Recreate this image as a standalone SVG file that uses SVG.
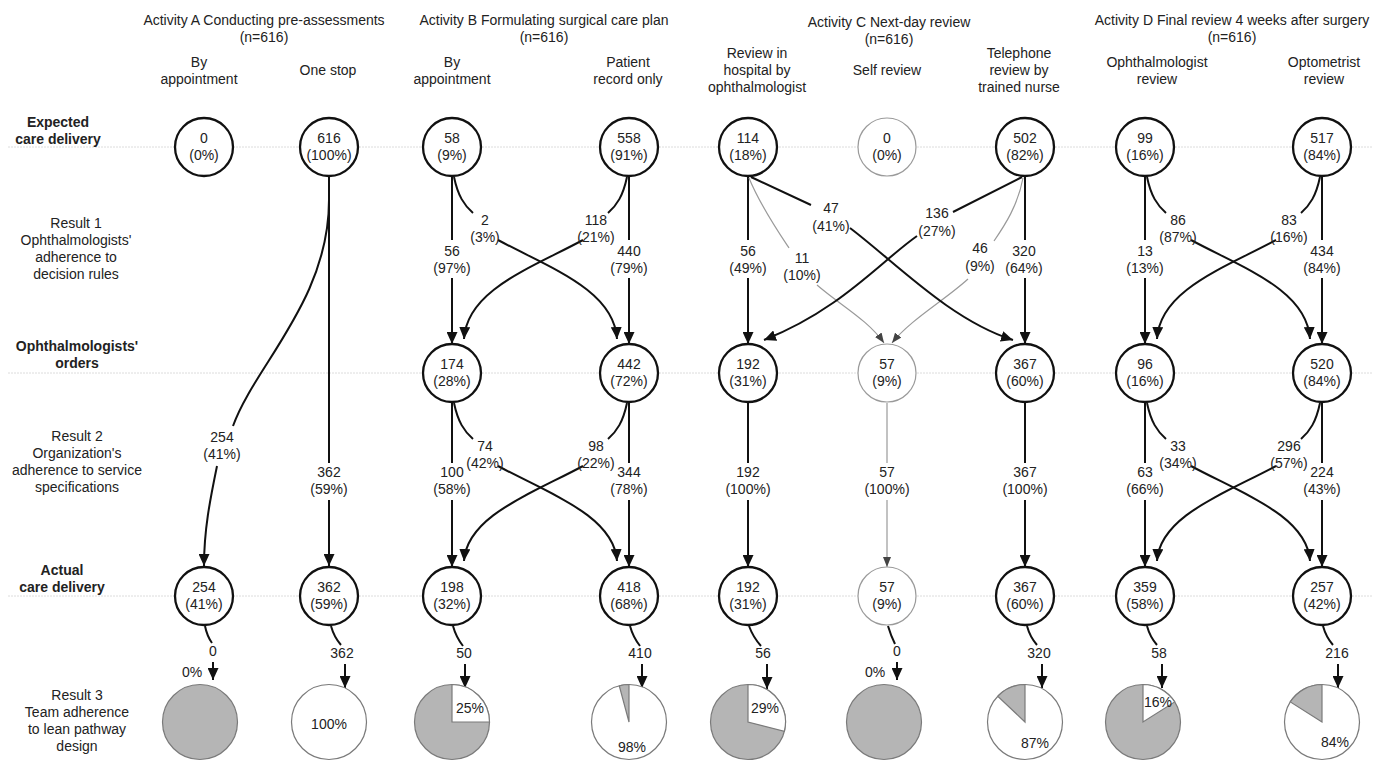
<svg xmlns="http://www.w3.org/2000/svg" width="1384" height="761" viewBox="0 0 1384 761">
<defs>
<style>
text{font-family:"Liberation Sans",Arial,sans-serif;font-size:14px;fill:#222;text-anchor:middle}
.b{font-weight:bold}
.grid{stroke:#dcdcdc;stroke-width:1;stroke-dasharray:2 1}
.nd circle{fill:#fff;stroke:#111;stroke-width:2.3}
.ng circle{fill:#fff;stroke:#9a9a9a;stroke-width:1.2}
.c{fill:none;stroke:#111;stroke-width:2}
.cg{fill:none;stroke:#9a9a9a;stroke-width:1.2}
.pg{fill:#b5b5b5;stroke:#7a7a7a;stroke-width:1.2}
.pw{fill:#fff;stroke:#7a7a7a;stroke-width:1.2}
</style>
<marker id="ah" viewBox="0 0 12 11" refX="12" refY="5.5" markerWidth="12" markerHeight="11" markerUnits="userSpaceOnUse" orient="auto"><path d="M0,0 L12,5.5 L0,11 Z" fill="#111"/></marker>
<marker id="ahg" viewBox="0 0 10 8" refX="10" refY="4" markerWidth="10" markerHeight="8" markerUnits="userSpaceOnUse" orient="auto"><path d="M0,0 L10,4 L0,8 Z" fill="#444"/></marker>
</defs>
<rect width="1384" height="761" fill="#fff"/>

<g id="gridlines">
<line class="grid" x1="8" y1="147" x2="1373" y2="147"/>
<line class="grid" x1="8" y1="373" x2="1373" y2="373"/>
<line class="grid" x1="8" y1="596" x2="1373" y2="596"/>
</g>

<g id="headers">
<text x="264" y="25">Activity A Conducting pre-assessments</text><text x="264" y="42">(n=616)</text>
<text x="544" y="25">Activity B Formulating surgical care plan</text><text x="544" y="42">(n=616)</text>
<text x="889" y="27">Activity C Next-day review</text><text x="889" y="44">(n=616)</text>
<text x="1232" y="25">Activity D Final review 4 weeks after surgery</text><text x="1232" y="42">(n=616)</text>
<text x="199" y="67">By</text><text x="199" y="84">appointment</text>
<text x="328" y="75">One stop</text>
<text x="452" y="67">By</text><text x="452" y="84">appointment</text>
<text x="628" y="67">Patient</text><text x="628" y="84">record only</text>
<text x="757" y="58">Review in</text><text x="757" y="75">hospital by</text><text x="757" y="92">ophthalmologist</text>
<text x="887" y="75">Self review</text>
<text x="1019" y="58">Telephone</text><text x="1019" y="75">review by</text><text x="1019" y="92">trained nurse</text>
<text x="1157" y="67">Ophthalmologist</text><text x="1157" y="84">review</text>
<text x="1324" y="67">Optometrist</text><text x="1324" y="84">review</text>
</g>

<g id="rowlabels">
<text class="b" x="58" y="127">Expected</text><text class="b" x="58" y="144">care delivery</text>
<text x="76" y="228">Result 1</text><text x="76" y="245">Ophthalmologists'</text><text x="76" y="262">adherence to</text><text x="76" y="279">decision rules</text>
<text class="b" x="77" y="351">Ophthalmologists'</text><text class="b" x="77" y="368">orders</text>
<text x="77" y="441">Result 2</text><text x="77" y="458">Organization's</text><text x="77" y="475">adherence to service</text><text x="77" y="492">specifications</text>
<text class="b" x="62" y="575">Actual</text><text class="b" x="62" y="592">care delivery</text>
<text x="77" y="700">Result 3</text><text x="77" y="717">Team adherence</text><text x="77" y="734">to lean pathway</text><text x="77" y="751">design</text>
</g>

<g id="connectors">
<!-- Activity A -->
<path class="c" d="M329,177 L329,463 M329,500 L329,566" marker-end="url(#ah)"/>
<path class="c" d="M329,177 L329,200 C329,300 255,365 233,426 M217,466 C210,500 204,530 204,566" marker-end="url(#ah)"/>
<!-- Activity B top -->
<path class="c" d="M452,177 L452,240 M452,278 L452,344" marker-end="url(#ah)"/>
<path class="c" d="M629,177 L629,240 M629,278 L629,344" marker-end="url(#ah)"/>
<path class="c" d="M454,177 C458,196 464,205 473,213 M498,240 C550,268 614,290 617,339" marker-end="url(#ah)"/>
<path class="c" d="M627,177 C623,196 617,205 608,213 M583,240 C531,268 467,290 464,339" marker-end="url(#ah)"/>
<!-- Activity B bottom -->
<path class="c" d="M452,403 L452,463 M452,500 L452,567" marker-end="url(#ah)"/>
<path class="c" d="M629,403 L629,463 M629,500 L629,567" marker-end="url(#ah)"/>
<path class="c" d="M454,403 C458,422 464,431 473,439 M498,466 C550,494 614,516 617,561" marker-end="url(#ah)"/>
<path class="c" d="M627,403 C623,422 617,431 608,439 M583,466 C531,494 467,516 464,561" marker-end="url(#ah)"/>
<!-- Activity C top -->
<path class="c" d="M748,177 L748,240 M748,278 L748,344" marker-end="url(#ah)"/>
<path class="c" d="M1025,177 L1025,240 M1025,278 L1025,344" marker-end="url(#ah)"/>
<path class="cg" d="M749,178 C760,205 777,230 789,248 M817,285 C840,305 868,320 884,343" marker-end="url(#ahg)"/>
<path class="cg" d="M1023,178 C1018,205 1005,225 994,241 M968,279 C945,300 910,320 892,343" marker-end="url(#ahg)"/>
<path class="c" d="M751,177 L811,205 M850,228 C895,262 950,320 1013,340" marker-end="url(#ah)"/>
<path class="c" d="M1022,177 L953,212 M917,236 C880,262 840,310 764,340" marker-end="url(#ah)"/>
<!-- Activity C bottom -->
<path class="c" d="M748,403 L748,463 M748,500 L748,567" marker-end="url(#ah)"/>
<path class="cg" d="M887,403 L887,463 M887,500 L887,567" marker-end="url(#ahg)"/>
<path class="c" d="M1025,403 L1025,463 M1025,500 L1025,567" marker-end="url(#ah)"/>
<!-- Activity D top -->
<path class="c" d="M1145,177 L1145,240 M1145,278 L1145,344" marker-end="url(#ah)"/>
<path class="c" d="M1322,177 L1322,240 M1322,278 L1322,344" marker-end="url(#ah)"/>
<path class="c" d="M1147,177 C1151,196 1157,205 1166,213 M1191,240 C1243,268 1307,290 1310,339" marker-end="url(#ah)"/>
<path class="c" d="M1320,177 C1316,196 1310,205 1301,213 M1276,240 C1224,268 1160,290 1157,339" marker-end="url(#ah)"/>
<!-- Activity D bottom -->
<path class="c" d="M1145,403 L1145,463 M1145,500 L1145,567" marker-end="url(#ah)"/>
<path class="c" d="M1322,403 L1322,463 M1322,500 L1322,567" marker-end="url(#ah)"/>
<path class="c" d="M1147,403 C1151,422 1157,431 1166,439 M1191,466 C1243,494 1307,516 1310,561" marker-end="url(#ah)"/>
<path class="c" d="M1320,403 C1316,422 1310,431 1301,439 M1276,466 C1224,494 1160,516 1157,561" marker-end="url(#ah)"/>
<!-- Actual to Result 3 -->
<path class="c" d="M205,626 Q207,636 212,643 M213,662 L213,680" marker-end="url(#ah)"/>
<path class="c" d="M331,626 Q334,637 341,645 M345,664 L345,688" marker-end="url(#ah)"/>
<path class="c" d="M453,626 Q456,637 463,646 M465,664 L465,688" marker-end="url(#ah)"/>
<path class="c" d="M630,626 Q633,637 640,646 M642,664 L642,688" marker-end="url(#ah)"/>
<path class="c" d="M749,626 Q753,637 761,646 M767,664 L767,689" marker-end="url(#ah)"/>
<path class="c" d="M888,626 Q891,636 895,644 M897,662 L897,680" marker-end="url(#ah)"/>
<path class="c" d="M1027,626 Q1030,637 1037,645 M1042,664 L1042,688" marker-end="url(#ah)"/>
<path class="c" d="M1147,626 Q1150,637 1157,645 M1162,664 L1162,688" marker-end="url(#ah)"/>
<path class="c" d="M1323,626 Q1326,637 1333,645 M1338,664 L1338,688" marker-end="url(#ah)"/>
</g>

<g id="connector-labels">
<text x="222" y="442">254</text><text x="222" y="459">(41%)</text>
<text x="329" y="477">362</text><text x="329" y="494">(59%)</text>
<text x="452" y="256">56</text><text x="452" y="273">(97%)</text>
<text x="485" y="225">2</text><text x="485" y="242">(3%)</text>
<text x="596" y="225">118</text><text x="596" y="242">(21%)</text>
<text x="629" y="256">440</text><text x="629" y="273">(79%)</text>
<text x="452" y="477">100</text><text x="452" y="494">(58%)</text>
<text x="485" y="451">74</text><text x="485" y="468">(42%)</text>
<text x="596" y="451">98</text><text x="596" y="468">(22%)</text>
<text x="629" y="477">344</text><text x="629" y="494">(78%)</text>
<text x="748" y="256">56</text><text x="748" y="273">(49%)</text>
<text x="831" y="213">47</text><text x="831" y="231">(41%)</text>
<text x="802" y="263">11</text><text x="802" y="280">(10%)</text>
<text x="937" y="218">136</text><text x="937" y="236">(27%)</text>
<text x="980" y="253">46</text><text x="980" y="271">(9%)</text>
<text x="1024" y="256">320</text><text x="1024" y="273">(64%)</text>
<text x="748" y="477">192</text><text x="748" y="494">(100%)</text>
<text x="887" y="477">57</text><text x="887" y="494">(100%)</text>
<text x="1025" y="477">367</text><text x="1025" y="494">(100%)</text>
<text x="1145" y="256">13</text><text x="1145" y="273">(13%)</text>
<text x="1178" y="225">86</text><text x="1178" y="242">(87%)</text>
<text x="1289" y="225">83</text><text x="1289" y="242">(16%)</text>
<text x="1322" y="256">434</text><text x="1322" y="273">(84%)</text>
<text x="1145" y="477">63</text><text x="1145" y="494">(66%)</text>
<text x="1178" y="451">33</text><text x="1178" y="468">(34%)</text>
<text x="1289" y="451">296</text><text x="1289" y="468">(57%)</text>
<text x="1322" y="477">224</text><text x="1322" y="494">(43%)</text>
<text x="213" y="656">0</text><text x="192" y="677">0%</text>
<text x="342" y="658">362</text>
<text x="464" y="658">50</text>
<text x="640" y="658">410</text>
<text x="763" y="658">56</text>
<text x="897" y="656">0</text><text x="875" y="677">0%</text>
<text x="1039" y="658">320</text>
<text x="1159" y="658">58</text>
<text x="1337" y="658">216</text>
</g>

<!-- Expected care delivery -->
<g id="A1e" class="nd"><circle cx="204" cy="147" r="29"/><text x="204" y="143">0</text><text x="204" y="160">(0%)</text></g>
<g id="A2e" class="nd"><circle cx="329" cy="147" r="29"/><text x="329" y="143">616</text><text x="329" y="160">(100%)</text></g>
<g id="B1e" class="nd"><circle cx="452" cy="147" r="29"/><text x="452" y="143">58</text><text x="452" y="160">(9%)</text></g>
<g id="B2e" class="nd"><circle cx="629" cy="147" r="29"/><text x="629" y="143">558</text><text x="629" y="160">(91%)</text></g>
<g id="C1e" class="nd"><circle cx="748" cy="147" r="29"/><text x="748" y="143">114</text><text x="748" y="160">(18%)</text></g>
<g id="C2e" class="ng"><circle cx="887" cy="147" r="29"/><text x="887" y="143">0</text><text x="887" y="160">(0%)</text></g>
<g id="C3e" class="nd"><circle cx="1025" cy="147" r="29"/><text x="1025" y="143">502</text><text x="1025" y="160">(82%)</text></g>
<g id="D1e" class="nd"><circle cx="1145" cy="147" r="29"/><text x="1145" y="143">99</text><text x="1145" y="160">(16%)</text></g>
<g id="D2e" class="nd"><circle cx="1322" cy="147" r="29"/><text x="1322" y="143">517</text><text x="1322" y="160">(84%)</text></g>

<!-- Ophthalmologists' orders -->
<g id="B1o" class="nd"><circle cx="452" cy="373" r="29"/><text x="452" y="369">174</text><text x="452" y="386">(28%)</text></g>
<g id="B2o" class="nd"><circle cx="629" cy="373" r="29"/><text x="629" y="369">442</text><text x="629" y="386">(72%)</text></g>
<g id="C1o" class="nd"><circle cx="748" cy="373" r="29"/><text x="748" y="369">192</text><text x="748" y="386">(31%)</text></g>
<g id="C2o" class="ng"><circle cx="887" cy="373" r="29"/><text x="887" y="369">57</text><text x="887" y="386">(9%)</text></g>
<g id="C3o" class="nd"><circle cx="1025" cy="373" r="29"/><text x="1025" y="369">367</text><text x="1025" y="386">(60%)</text></g>
<g id="D1o" class="nd"><circle cx="1145" cy="373" r="29"/><text x="1145" y="369">96</text><text x="1145" y="386">(16%)</text></g>
<g id="D2o" class="nd"><circle cx="1322" cy="373" r="29"/><text x="1322" y="369">520</text><text x="1322" y="386">(84%)</text></g>

<!-- Actual care delivery -->
<g id="A1a" class="nd"><circle cx="204" cy="596" r="29"/><text x="204" y="592">254</text><text x="204" y="609">(41%)</text></g>
<g id="A2a" class="nd"><circle cx="329" cy="596" r="29"/><text x="329" y="592">362</text><text x="329" y="609">(59%)</text></g>
<g id="B1a" class="nd"><circle cx="452" cy="596" r="29"/><text x="452" y="592">198</text><text x="452" y="609">(32%)</text></g>
<g id="B2a" class="nd"><circle cx="629" cy="596" r="29"/><text x="629" y="592">418</text><text x="629" y="609">(68%)</text></g>
<g id="C1a" class="nd"><circle cx="748" cy="596" r="29"/><text x="748" y="592">192</text><text x="748" y="609">(31%)</text></g>
<g id="C2a" class="ng"><circle cx="887" cy="596" r="29"/><text x="887" y="592">57</text><text x="887" y="609">(9%)</text></g>
<g id="C3a" class="nd"><circle cx="1025" cy="596" r="29"/><text x="1025" y="592">367</text><text x="1025" y="609">(60%)</text></g>
<g id="D1a" class="nd"><circle cx="1145" cy="596" r="29"/><text x="1145" y="592">359</text><text x="1145" y="609">(58%)</text></g>
<g id="D2a" class="nd"><circle cx="1322" cy="596" r="29"/><text x="1322" y="592">257</text><text x="1322" y="609">(42%)</text></g>

<!-- Result 3 pies -->
<g id="A1p"><circle class="pg" cx="200" cy="722" r="37.5"/></g>
<g id="A2p"><circle class="pw" cx="329" cy="722" r="37.5"/><text x="329" y="729">100%</text></g>
<g id="B1p"><circle class="pg" cx="452" cy="722" r="37.5"/><path class="pw" d="M452,722 L452,684.5 A37.5,37.5 0 0 1 489.5,722 Z"/><text x="470" y="713">25%</text></g>
<g id="B2p"><circle class="pw" cx="629" cy="722" r="37.5"/><path class="pg" d="M629,722 L619.3,685.8 A37.5,37.5 0 0 1 629,684.5 Z"/><text x="632" y="752">98%</text></g>
<g id="C1p"><circle class="pg" cx="748" cy="722" r="37.5"/><path class="pw" d="M748,722 L748,684.5 A37.5,37.5 0 0 1 784.3,731.3 Z"/><text x="765" y="713">29%</text></g>
<g id="C2p"><circle class="pg" cx="884" cy="722" r="37.5"/></g>
<g id="C3p"><circle class="pw" cx="1025" cy="722" r="37.5"/><path class="pg" d="M1025,722 L997.7,696.3 A37.5,37.5 0 0 1 1025,684.5 Z"/><text x="1035" y="748">87%</text></g>
<g id="D1p"><circle class="pg" cx="1143" cy="722" r="37.5"/><path class="pw" d="M1143,722 L1143,684.5 A37.5,37.5 0 0 1 1174.7,701.9 Z"/><text x="1158" y="707">16%</text></g>
<g id="D2p"><circle class="pw" cx="1322" cy="722" r="37.5"/><path class="pg" d="M1322,722 L1290.3,701.9 A37.5,37.5 0 0 1 1322,684.5 Z"/><text x="1335" y="747">84%</text></g>
</svg>
